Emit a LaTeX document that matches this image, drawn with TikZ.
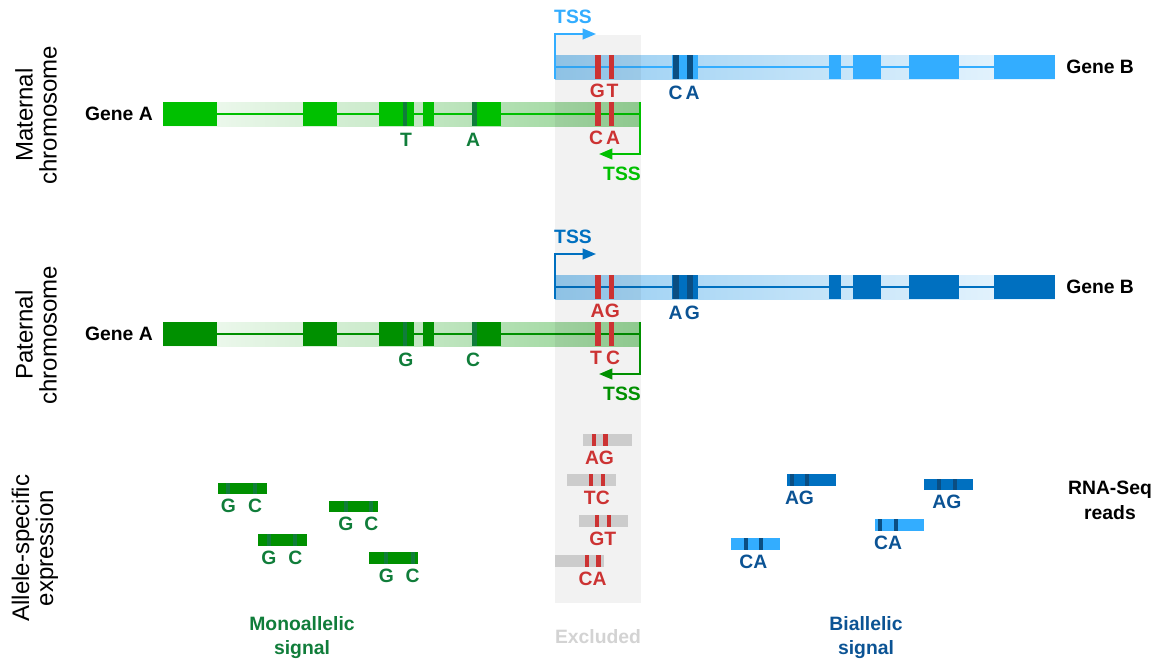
\documentclass[tikz,border=0pt]{standalone}
\usepackage{fontspec}
\setmainfont{Liberation Sans}
\usepackage{xcolor}
\usepackage{tikz}
\usetikzlibrary{arrows.meta}

\definecolor{matgreen}{RGB}{0,192,0}
\definecolor{patgreen}{RGB}{0,144,0}
\definecolor{snpgreen}{RGB}{16,125,58}
\definecolor{matblue}{RGB}{51,173,255}
\definecolor{patblue}{RGB}{0,112,192}
\definecolor{snpblue}{RGB}{11,78,130}
\definecolor{lblblue}{RGB}{11,83,148}
\definecolor{snpred}{RGB}{204,51,51}
\definecolor{readgray}{RGB}{204,204,204}
\definecolor{exclgray}{RGB}{211,211,211}
\definecolor{Alight}{RGB}{246,252,246}
\definecolor{Adark}{RGB}{150,212,150}
\definecolor{Bdark}{RGB}{150,205,242}
\definecolor{Blight}{RGB}{236,247,254}

\begin{document}
\begin{tikzpicture}[x=0.75pt,y=-0.75pt,
    lbl/.style={font=\fontsize{14.5}{18.5}\selectfont\bfseries,inner sep=0pt,align=center},
    side/.style={font=\fontsize{18}{18}\selectfont,rotate=90,inner sep=0pt,align=center},
    tss/.style={line width=1.5pt,-{Triangle[length=10pt,width=8pt]}},
    intron/.style={line width=1.5pt}]

    \useasboundingbox (0,0) rectangle (1167,658);

    %gene bodies
    \foreach \dy/\cA/\cB in {0/matgreen/matblue,220/patgreen/patblue}{
      \begin{scope}[shift={(0,\dy)}]
        \fill[left color=Alight,right color=Adark] (163,102) rectangle (640,126);
        \draw[intron,\cA] (163,114) -- (640,114);
        \foreach \a/\b in {163/217,303/337,379/414,423/434,472/501}
          \fill[\cA] (\a,102) rectangle (\b,126);
        \fill[left color=Bdark,right color=Blight] (555,55) rectangle (1055,79);
        \draw[intron,\cB] (555,67) -- (1055,67);
        \foreach \a/\b in {672/698,829/841,853/881,909/959,994/1055}
          \fill[\cB] (\a,55) rectangle (\b,79);
      \end{scope}
    }

    %excluded region
    \fill[black,fill opacity=0.05] (555,35) rectangle (641,603);

    %snps and tss
    \foreach \dy/\cA/\cB/\n/\rx/\ry/\qx/\qy/\bx/\by/\gx/\gy in
      {0/matgreen/matblue/mat/G/T/C/A/C/A/T/A,220/patgreen/patblue/pat/A/G/T/C/A/G/G/C}{
      \begin{scope}[shift={(0,\dy)}]
        \foreach \p in {598,611.5}{
          \fill[snpred] (\p-2.6,55) rectangle (\p+2.6,79);
          \fill[snpred] (\p-2.6,102) rectangle (\p+2.6,126);
        }
        \foreach \p in {676.3,689.5} \fill[snpblue] (\p-3,55) rectangle (\p+3,79);
        \foreach \p in {405,474.3} \fill[snpgreen] (\p-2.3,102) rectangle (\p+2.3,126);
        %tss
        \coordinate (\n-Bstart) at (555,79);
        \coordinate (\n-Btip) at (596,34);
        \coordinate (\n-Astart) at (640,102);
        \coordinate (\n-Atip) at (599,154);
        \draw[tss,\cB] (\n-Bstart) |- (\n-Btip);
        \draw[tss,\cA] (\n-Astart) |- (\n-Atip);
        \node[lbl,\cB] (\n-tssB) at (573,17) {TSS};
        \node[lbl,\cA] (\n-tssA) at (622,174) {TSS};
        %alleles
        \node[lbl,snpred] (\n-r1) at (597.5,91) {\rx};
        \node[lbl,snpred] (\n-r2) at (612.5,91) {\ry};
        \node[lbl,snpred] (\n-q1) at (596,138) {\qx};
        \node[lbl,snpred] (\n-q2) at (613,138) {\qy};
        \node[lbl,lblblue] (\n-b1) at (675.5,93) {\bx};
        \node[lbl,lblblue] (\n-b2) at (692.5,93) {\by};
        \node[lbl,snpgreen] (\n-g1) at (406,140) {\gx};
        \node[lbl,snpgreen] (\n-g2) at (473,140) {\gy};
      \end{scope}
    }

    %monoallelic reads
    \foreach \x/\y/\pa/\pb [count=\i] in {217.7/482.7/228.3/255,258.3/534.3/269/295.3,328.7/500.7/346/371.3,369/552.3/386.3/412.7}{
      \fill[patgreen] (\x,\y) rectangle ++(49,11.5);
      \foreach \p in {\pa,\pb} \fill[snpgreen] (\p-2,\y) rectangle ++(4,11.5);
      \node[lbl,snpgreen] (mono\i-g) at (\pa,\y+23.5) {G};
      \node[lbl,snpgreen] (mono\i-c) at (\pb,\y+23.5) {C};
    }

    %excluded reads
    \foreach \x/\y/\pa/\pb/\txt [count=\i] in {583.3/434/593.7/605.3/AG,566.7/474.3/591/602.7/TC,579/515/597/608.7/GT,555/555/586.7/598.3/CA}{
      \fill[readgray] (\x,\y) rectangle ++(49,11.5);
      \foreach \p in {\pa,\pb} \fill[snpred] (\p-2.2,\y) rectangle ++(4.5,11.5);
      \node[lbl,snpred] (excl\i) at ({(\pa+\pb)/2},\y+23.5) {\txt};
    }

    %biallelic reads
    \foreach \x/\y/\pa/\pb/\txt/\col [count=\i] in {786.7/474.3/791.7/807.3/AG/patblue,923.7/478.7/939/954.7/AG/patblue,875/519/880/896/CA/matblue,731/538.3/745.7/761/CA/matblue}{
      \fill[\col] (\x,\y) rectangle ++(49,11.5);
      \foreach \p in {\pa,\pb} \fill[snpblue] (\p-2,\y) rectangle ++(4,11.5);
      \node[lbl,lblblue] (bi\i) at ({(\pa+\pb)/2},\y+23.5) {\txt};
    }

    %labels
    \node[side] (mat) at (36,115) {Maternal\\chromosome};
    \node[side] (pat) at (36,335) {Paternal\\chromosome};
    \node[side] (ase) at (35,548) {Allele-specific\\expression};
    \node[lbl,anchor=east] (geneAm) at (153,114) {Gene A};
    \node[lbl,anchor=east] (geneAp) at (153,334) {Gene A};
    \node[lbl,anchor=west] (geneBm) at (1066,67) {Gene B};
    \node[lbl,anchor=west] (geneBp) at (1066,287) {Gene B};
    \node[lbl] (reads) at (1110,500) {RNA-Seq\\reads};
    \node[lbl,snpgreen] (mono) at (302,637.5) {Monoallelic\\signal};
    \node[lbl,exclgray] (excl) at (598,637) {Excluded};
    \node[lbl,lblblue] (bi) at (866,637.5) {Biallelic\\signal};

\end{tikzpicture}
\end{document}
